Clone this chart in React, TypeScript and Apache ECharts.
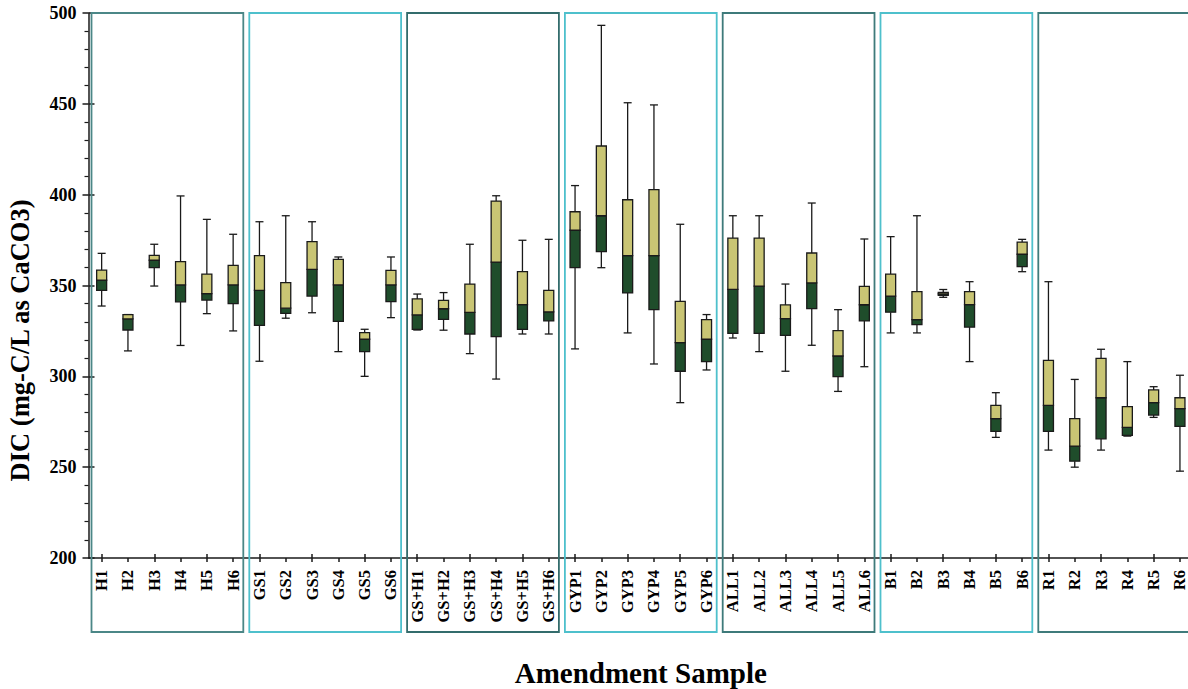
import React, { useEffect, useRef } from "react";
import * as echarts from "echarts";

// Sample labels along the x axis, in plotting order
const categories = [
  "H1", "H2", "H3", "H4", "H5", "H6",
  "GS1", "GS2", "GS3", "GS4", "GS5", "GS6",
  "GS+H1", "GS+H2", "GS+H3", "GS+H4", "GS+H5", "GS+H6",
  "GYP1", "GYP2", "GYP3", "GYP4", "GYP5", "GYP6",
  "ALL1", "ALL2", "ALL3", "ALL4", "ALL5", "ALL6",
  "B1", "B2", "B3", "B4", "B5", "B6",
  "R1", "R2", "R3", "R4", "R5", "R6",
];

// Box statistics per sample: [min, Q1, median, Q3, max] in mg-C/L as CaCO3
const hucBoxes = [
  [338.7, 347.3, 352.9, 358.5, 367.7],
  [314.0, 325.5, 331.6, 334.0, 334.0],
  [349.7, 359.8, 363.9, 366.6, 372.7],
  [317.0, 341.0, 350.3, 363.1, 399.3],
  [334.5, 342.0, 345.5, 356.3, 386.4],
  [325.0, 340.0, 350.3, 361.1, 378.2],
];
const gsBoxes = [
  [308.3, 328.1, 347.3, 366.4, 385.1],
  [332.0, 334.7, 337.5, 351.6, 388.4],
  [335.0, 344.2, 358.9, 374.1, 385.1],
  [313.6, 330.3, 350.3, 364.4, 365.7],
  [300.0, 313.6, 320.4, 324.1, 325.9],
  [332.3, 341.1, 350.3, 358.3, 365.7],
];
const gsHBoxes = [
  [325.5, 325.9, 333.8, 342.6, 345.3],
  [325.4, 331.4, 337.2, 341.8, 346.1],
  [312.5, 323.3, 335.2, 350.8, 372.7],
  [298.5, 321.9, 362.9, 396.5, 399.4],
  [323.3, 325.9, 339.5, 357.6, 374.9],
  [323.3, 330.5, 335.5, 347.3, 375.4],
];
const gypBoxes = [
  [315.1, 359.8, 380.4, 390.6, 405.0],
  [359.8, 368.6, 388.4, 426.8, 493.2],
  [323.9, 345.9, 366.4, 397.2, 450.6],
  [306.8, 336.7, 366.4, 402.8, 449.4],
  [285.5, 302.8, 318.6, 341.3, 383.7],
  [303.5, 308.1, 320.4, 331.2, 334.0],
];
const allBoxes = [
  [321.1, 323.7, 347.9, 376.1, 388.4],
  [313.6, 323.7, 349.7, 376.1, 388.4],
  [302.8, 322.6, 331.8, 339.3, 350.8],
  [317.1, 337.3, 351.4, 367.9, 395.4],
  [291.7, 299.8, 311.2, 325.2, 336.7],
  [305.3, 330.5, 339.4, 349.5, 375.6],
];
const bBoxes = [
  [323.9, 335.3, 344.2, 356.3, 376.9],
  [323.9, 328.5, 331.2, 346.6, 388.4],
  [343.5, 344.6, 345.4, 346.2, 347.8],
  [308.1, 327.1, 339.5, 346.6, 352.1],
  [266.4, 269.7, 276.7, 284.0, 291.0],
  [357.6, 360.4, 367.2, 373.9, 375.4],
];
const rBoxes = [
  [259.4, 269.7, 284.0, 308.8, 352.1],
  [250.0, 253.3, 261.6, 276.7, 298.3],
  [259.4, 265.6, 288.2, 309.9, 314.9],
  [267.1, 267.5, 271.9, 283.3, 308.1],
  [277.4, 278.7, 285.5, 292.5, 294.3],
  [247.8, 272.4, 282.2, 288.2, 300.6],
];

// Amendment groups: name and [first, last] category index
const groupNames = ["H", "GS", "GS+H", "GYP", "ALL", "B", "R"];
const groupSpans = [
  [0, 5], [6, 11], [12, 17], [18, 23], [24, 29], [30, 35], [36, 41],
];

const yMin = 200;
const yMax = 500;
const yStep = 50;

const FONT = '"Liberation Serif", "Times New Roman", serif';
const INK = "#1a1a1a";
const LOW_FILL = "#1f4d2b";
const HIGH_FILL = "#c9c574";
const FRAME_COLORS = ["#4b8787", "#4ec0cc", "#336c6c", "#4ec0cc", "#3e7a7a", "#4ec0cc", "#3f7b7b"];

export default function App() {
  const ref = useRef<HTMLDivElement>(null);

  useEffect(() => {
    if (!ref.current) return;
    const chart = echarts.init(ref.current, undefined, { renderer: "svg" });

    const allBoxStats = [
      ...hucBoxes, ...gsBoxes, ...gsHBoxes, ...gypBoxes, ...allBoxes, ...bBoxes, ...rBoxes,
    ];
    const boxData = allBoxStats.map((s, i) => [i, ...s]);
    const frameData = groupSpans.map((span, i) => [span[0], span[1], i]);

    const option: any = {
      animation: false,
      backgroundColor: "#ffffff",
      grid: {
        left: 88.5,
        top: 13,
        width: 1104.6,
        height: 545,
        containLabel: false,
        outerBoundsMode: "none",
      },
      xAxis: [
        {
          type: "category",
          data: categories,
          boundaryGap: true,
          position: "bottom",
          axisLine: { show: true, lineStyle: { color: INK, width: 1.5 } },
          axisTick: { show: true, alignWithLabel: true, length: 4, lineStyle: { color: INK, width: 1.5 } },
          axisLabel: {
            rotate: 90,
            interval: 0,
            margin: 12,
            fontFamily: FONT,
            fontWeight: "bold",
            fontSize: 16.5,
            color: "#000",
          },
          splitLine: { show: false },
          name: "Amendment Sample",
          nameLocation: "middle",
          nameGap: 100,
          nameTextStyle: { fontFamily: FONT, fontWeight: "bold", fontSize: 29, color: "#000" },
        },
        {
          type: "category",
          data: categories,
          boundaryGap: true,
          position: "bottom",
          axisLine: { show: false },
          axisTick: { show: true, inside: true, alignWithLabel: true, length: 4, lineStyle: { color: INK, width: 1.5 } },
          axisLabel: { show: false },
          splitLine: { show: false },
        },
      ],
      yAxis: [
        {
          type: "value",
          min: yMin,
          max: yMax,
          interval: yStep,
          position: "left",
          axisLine: { show: true, lineStyle: { color: INK, width: 1.5 } },
          axisTick: { show: true, length: 6, lineStyle: { color: INK, width: 1.5 } },
          minorTick: { show: true, splitNumber: 5, length: 4, lineStyle: { color: INK, width: 1.2 } },
          axisLabel: {
            margin: 12,
            fontFamily: FONT,
            fontWeight: "bold",
            fontSize: 18,
            color: "#000",
          },
          splitLine: { show: false },
          minorSplitLine: { show: false },
        },
        {
          type: "value",
          min: yMin,
          max: yMax,
          interval: yStep,
          position: "left",
          offset: 0,
          axisLine: { show: false },
          axisTick: { show: true, inside: true, length: 6, lineStyle: { color: INK, width: 1.5 } },
          axisLabel: { show: false },
          splitLine: { show: false },
        },
      ],
      graphic: [
        {
          type: "text",
          left: 6,
          top: 198,
          rotation: Math.PI / 2,
          style: {
            text: "DIC (mg-C/L as CaCO3)",
            fontFamily: FONT,
            fontWeight: "bold",
            fontSize: 26.5,
            fill: "#000",
          },
        },
      ],
      series: [
        {
          // group frames around each amendment's samples
          type: "custom",
          name: "groups",
          xAxisIndex: 0,
          yAxisIndex: 0,
          clip: false,
          silent: true,
          z: 1,
          data: frameData,
          encode: { x: [0, 1] },
          renderItem: (params: any, api: any) => {
            const first = api.value(0);
            const last = api.value(1);
            const gi = api.value(2);
            const band = api.size([1, 0])[0];
            const top = api.coord([first, yMax])[1];
            const base = api.coord([first, yMin])[1];
            const x0 = api.coord([first, yMin])[0] - band / 2 + 3;
            const x1 = api.coord([last, yMin])[0] + band / 2 - 3;
            return {
              type: "rect",
              shape: { x: x0, y: top, width: x1 - x0, height: base - top + 74 },
              style: { fill: "none", stroke: FRAME_COLORS[gi], lineWidth: 1.8 },
            };
          },
        },
        {
          type: "custom",
          name: "DIC",
          xAxisIndex: 0,
          yAxisIndex: 0,
          z: 5,
          data: boxData,
          encode: { x: 0, y: [1, 2, 3, 4, 5] },
          renderItem: (params: any, api: any) => {
            const i = api.value(0);
            const lo = api.coord([i, api.value(1)]);
            const q1 = api.coord([i, api.value(2)]);
            const md = api.coord([i, api.value(3)]);
            const q3 = api.coord([i, api.value(4)]);
            const hi = api.coord([i, api.value(5)]);
            const cx = lo[0];
            const bw = 10;
            const cw = 8;
            const lineStyle = { stroke: INK, lineWidth: 1.3 };
            return {
              type: "group",
              children: [
                { type: "line", shape: { x1: cx, y1: hi[1], x2: cx, y2: q3[1] }, style: lineStyle },
                { type: "line", shape: { x1: cx, y1: q1[1], x2: cx, y2: lo[1] }, style: lineStyle },
                { type: "line", shape: { x1: cx - cw / 2, y1: hi[1], x2: cx + cw / 2, y2: hi[1] }, style: lineStyle },
                { type: "line", shape: { x1: cx - cw / 2, y1: lo[1], x2: cx + cw / 2, y2: lo[1] }, style: lineStyle },
                {
                  type: "rect",
                  shape: { x: cx - bw / 2, y: md[1], width: bw, height: q1[1] - md[1] },
                  style: { fill: LOW_FILL, stroke: INK, lineWidth: 1.3 },
                },
                {
                  type: "rect",
                  shape: { x: cx - bw / 2, y: q3[1], width: bw, height: md[1] - q3[1] },
                  style: { fill: HIGH_FILL, stroke: INK, lineWidth: 1.3 },
                },
              ],
            };
          },
        },
      ],
    };

    chart.setOption(option);
    return () => chart.dispose();
  }, []);

  return (
    <div
      ref={ref}
      style={{ position: "absolute", left: 0, top: 0, width: 1188, height: 689, background: "#fff" }}
    />
  );
}
